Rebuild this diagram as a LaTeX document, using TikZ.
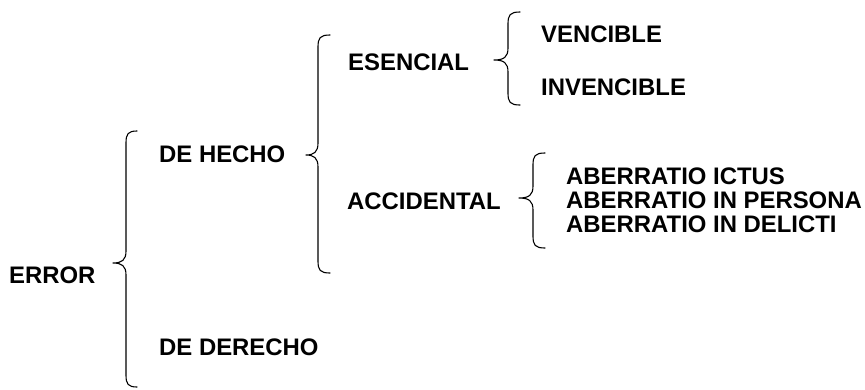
\documentclass[tikz,border=0pt]{standalone}
\usepackage{fontspec}
\setmainfont{Liberation Sans}
\begin{document}
\begin{tikzpicture}[x=1pt,y=-1pt,
  lbl/.style={anchor=base west,inner sep=0pt,font=\fontsize{23.9}{28}\selectfont\bfseries},
  brc/.style={line width=1.1pt,line cap=round,line join=round}]
\useasboundingbox (0,0) rectangle (865,389);
% brace macro: #1 xr, #2 xv, #3 xt, #4 ytop, #5 ytip, #6 ybot
\newcommand\mybrace[6]{%
  \draw[brc] (#1,#4) .. controls (#2+2,#4) and (#2,#4+3) .. (#2,#4+12)
    -- (#2,#5-12) .. controls (#2,#5-3) and (#2-4,#5) .. (#3,#5)
    .. controls (#2-4,#5) and (#2,#5+3) .. (#2,#5+12)
    -- (#2,#6-12) .. controls (#2,#6-3) and (#2+2,#6) .. (#1,#6);}
\node[lbl] (error) at (9,283) {ERROR};
\node[lbl] (hecho) at (159,162) {DE HECHO};
\node[lbl] (derecho) at (159,355) {DE DERECHO};
\node[lbl] (esencial) at (348,70) {ESENCIAL};
\node[lbl] (accidental) at (347,209) {ACCIDENTAL};
\node[lbl] (vencible) at (541,42) {VENCIBLE};
\node[lbl] (invencible) at (541,95) {INVENCIBLE};
\node[lbl] (ictus) at (566,184) {ABERRATIO ICTUS};
\node[lbl] (persona) at (566,208) {ABERRATIO IN PERSONA};
\node[lbl] (delicti) at (566,232) {ABERRATIO IN DELICTI};
\mybrace{137}{126}{113}{131}{263}{387}
\mybrace{330}{318}{306}{35}{155}{273}
\mybrace{520}{508}{494}{12}{60}{105}
\mybrace{545}{533}{519}{153}{198}{248}
\end{tikzpicture}
\end{document}
